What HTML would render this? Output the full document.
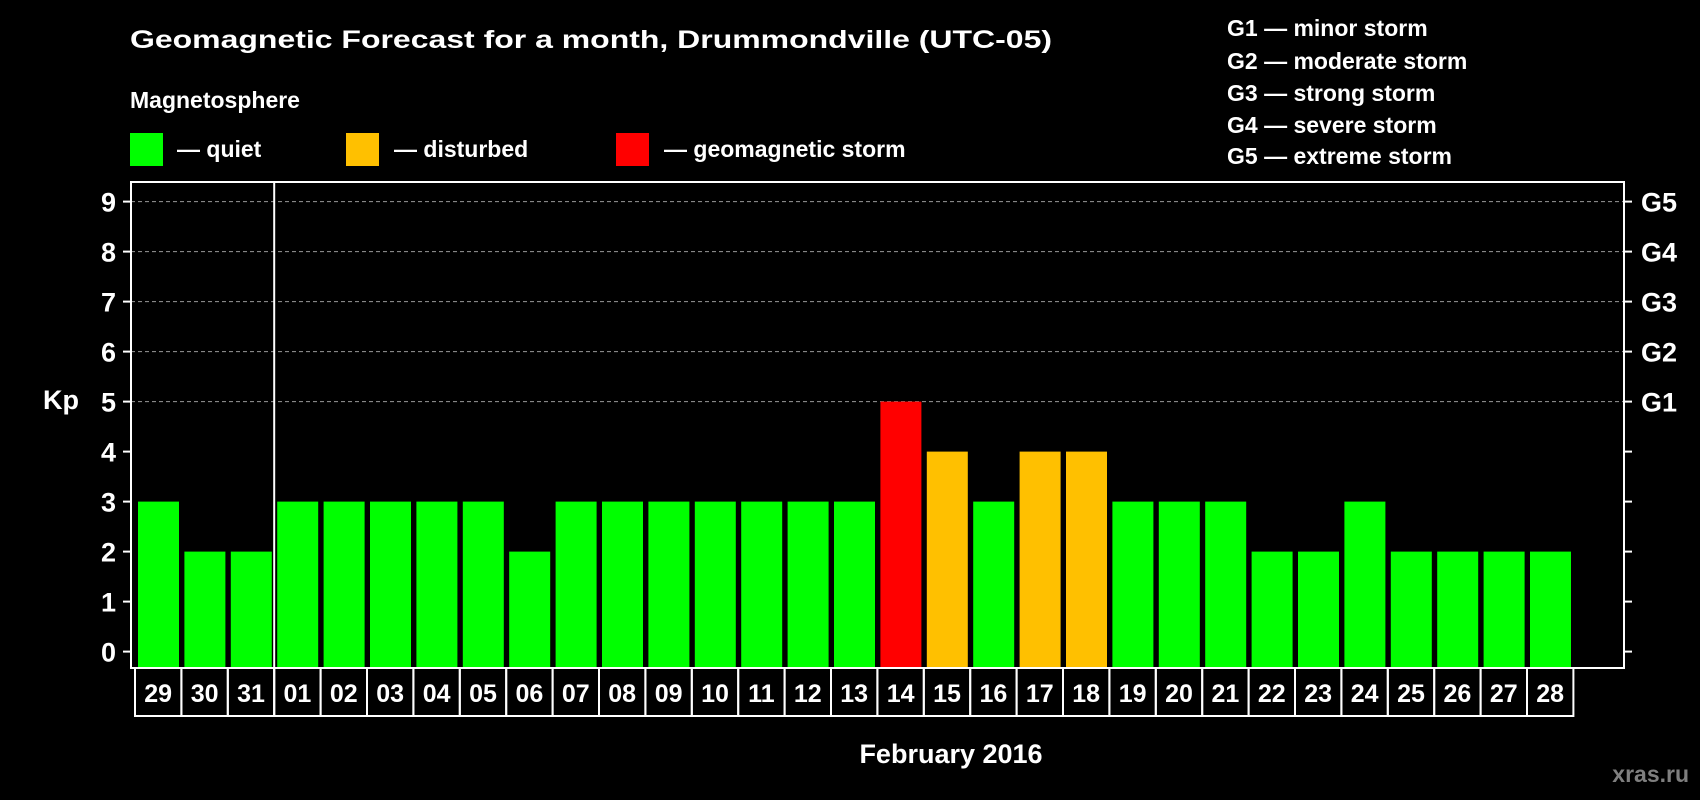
<!DOCTYPE html>
<html><head><meta charset="utf-8"><style>
html,body{margin:0;padding:0;background:#000;}
svg{display:block;font-family:"Liberation Sans",Arial,sans-serif;font-weight:bold;}
</style></head><body>
<svg id="chart" width="1700" height="800" viewBox="0 0 1700 800" xmlns="http://www.w3.org/2000/svg">
<rect width="1700" height="800" fill="#000"/>
<text x="130" y="48" font-size="25" fill="#fff" textLength="922" lengthAdjust="spacingAndGlyphs">Geomagnetic Forecast for a month, Drummondville (UTC-05)</text>
<text x="130" y="108" font-size="23" fill="#fff">Magnetosphere</text>
<g>
<rect x="130" y="133" width="33" height="33" fill="#00ff00"/>
<text x="177" y="157" font-size="23" fill="#fff">— quiet</text></g>
<g>
<rect x="346" y="133" width="33" height="33" fill="#ffc000"/>
<text x="394" y="157" font-size="23" fill="#fff">— disturbed</text></g>
<g>
<rect x="616" y="133" width="33" height="33" fill="#ff0000"/>
<text x="664" y="157" font-size="23" fill="#fff">— geomagnetic storm</text></g>
<g font-size="23" fill="#fff">
<text x="1227" y="36">G1 — minor storm</text>
<text x="1227" y="69">G2 — moderate storm</text>
<text x="1227" y="101">G3 — strong storm</text>
<text x="1227" y="133">G4 — severe storm</text>
<text x="1227" y="164">G5 — extreme storm</text>
</g>
<g id="grid"></g>
<g id="bars"></g>
<g id="axes"></g>
<text x="43" y="409" font-size="27" fill="#fff">Kp</text>
<text x="951" y="763" font-size="27" fill="#fff" text-anchor="middle">February 2016</text>
<text x="1689" y="782" font-size="23" fill="#7f7f7f" text-anchor="end">xras.ru</text>
</svg>
<script>
const days = ["29","30","31","01","02","03","04","05","06","07","08","09","10","11","12","13","14","15","16","17","18","19","20","21","22","23","24","25","26","27","28"];
const kpValues = [3,2,2,3,3,3,3,3,2,3,3,3,3,3,3,3,5,4,3,4,4,3,3,3,2,2,3,2,2,2,2];
const yTicks = [0,1,2,3,4,5,6,7,8,9];
const gLabels = ["G1","G2","G3","G4","G5"];
const NS="http://www.w3.org/2000/svg";
const L=131,T=182,R=1624,B=668;
const y0=651.6, unit=50;
const yScale=v=>y0-v*unit;
const bandStart=138, pitch=46.4, barW=41;
const xScale=i=>bandStart+i*pitch;
function mk(tag,attrs,parent){const e=document.createElementNS(NS,tag);for(const k in attrs)e.setAttribute(k,attrs[k]);parent.appendChild(e);return e;}
const grid=document.getElementById('grid'),bars=document.getElementById('bars'),axes=document.getElementById('axes');
yTicks.forEach(v=>{
  const y=yScale(v);
  if(v>=5){const g=mk('line',{x1:L,x2:R,y1:y,y2:y,stroke:'#999','stroke-width':1,'stroke-dasharray':'4,3'},grid);
  
  }
  mk('line',{x1:L-8,x2:L,y1:y,y2:y,stroke:'#fff','stroke-width':2},axes);
  mk('line',{x1:R,x2:R+8,y1:y,y2:y,stroke:'#fff','stroke-width':2},axes);
  const t=mk('text',{x:116,y:y+10,'font-size':27,fill:'#fff','text-anchor':'end'},axes);
  t.textContent=v;
  
  
  if(v>=5){const g=mk('text',{x:1641,y:y+10,'font-size':27,fill:'#fff'},axes);
  g.textContent=gLabels[v-5];
  
  }
});
kpValues.forEach((v,i)=>{
  const c=v>=5?'#ff0000':(v>=4?'#ffc000':'#00ff00');
  const r=mk('rect',{x:xScale(i),y:yScale(v),width:barW,height:B-yScale(v),fill:c},bars);
  
  
});
const f=mk('rect',{x:L,y:T,width:R-L,height:B-T,fill:'none',stroke:'#fff','stroke-width':2},axes);


const sepX=xScale(3)-3;
const s=mk('line',{x1:sepX,x2:sepX,y1:T,y2:716,stroke:'#fff','stroke-width':2},axes);


days.forEach((d,i)=>{
  const x=xScale(i)-3;
  const c=mk('rect',{x:x,y:B,width:pitch,height:48,fill:'none',stroke:'#fff','stroke-width':2},axes);
  
  
  const t=mk('text',{x:x+pitch/2,y:B+34,'font-size':25,fill:'#fff','text-anchor':'middle'},axes);
  t.textContent=d;
  
  
});
</script>
</body></html>
